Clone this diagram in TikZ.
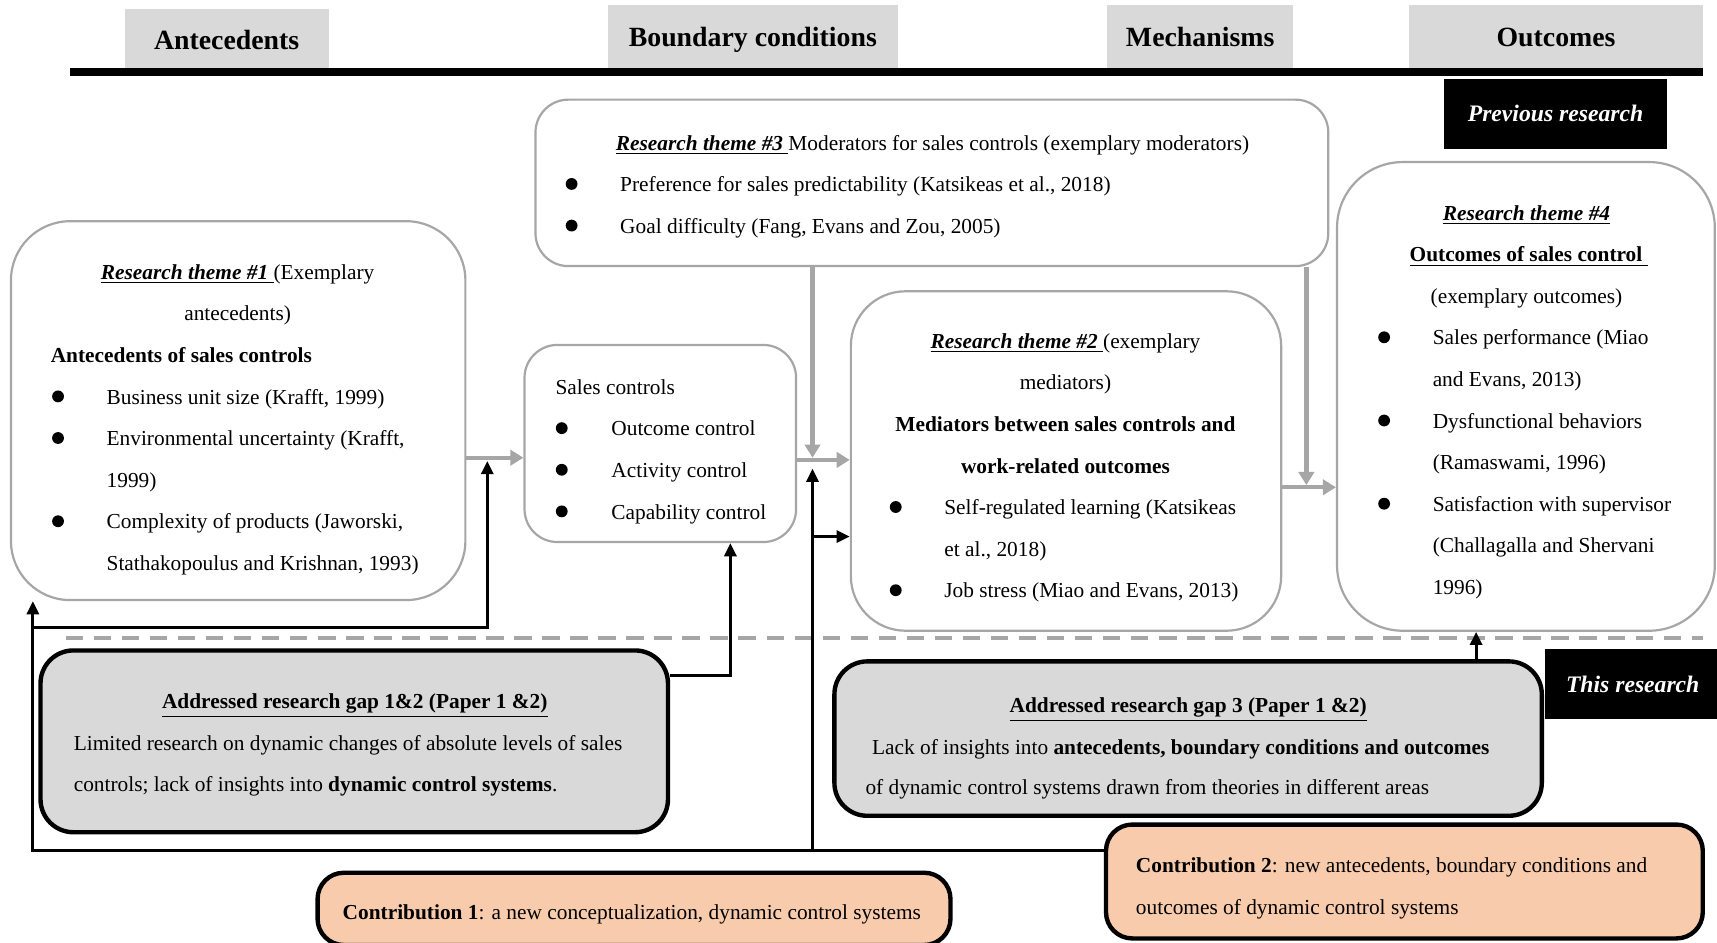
\documentclass[tikz,border=0pt]{standalone}
\usepackage{fontspec}
\setmainfont{Liberation Serif}
\usetikzlibrary{arrows.meta,calc}
\definecolor{tabgray}{HTML}{D9D9D9}
\definecolor{boxgray}{HTML}{A6A6A6}
\definecolor{peach}{HTML}{F8CBAD}
\newcommand{\rthm}[1]{\underline{\textbf{\textit{#1}}\ }}
\begin{document}
\begin{tikzpicture}[x=0.5pt,y=-0.5pt,
  tab/.style={fill=tabgray, inner sep=0pt, text height=11pt, text depth=2pt, font=\bfseries\fontsize{12.7}{15}\selectfont},
  blk/.style={fill=black, text=white, inner sep=0pt, font=\bfseries\itshape\fontsize{10.8}{13}\selectfont},
  gbox/.style={draw=boxgray, line width=1pt, fill=white, inner sep=0pt},
  gapbox/.style={draw=black, line width=2pt, fill=tabgray, inner sep=0pt, rounded corners=15pt},
  cbox/.style={draw=black, line width=2pt, fill=peach, inner sep=0pt, rounded corners=12pt},
  txt/.style={inner sep=0pt, yshift=-1pt, font=\fontsize{9.75}{12}\selectfont, text height=7pt, text depth=2pt},
  garrow/.style={draw=boxgray, line width=2pt, -{Triangle[width=7pt,length=6pt]}},
  barrow/.style={draw=black, line width=1.4pt, -{Triangle[width=5.5pt,length=6pt]}},
  bline/.style={draw=black, line width=1.4pt}]
\useasboundingbox (0,0) rectangle (1568,861);

% header tabs
\node[tab, minimum width=93pt, minimum height=28pt] (tA) at (207,36) {Antecedents};
\node[tab, minimum width=132.5pt, minimum height=28.5pt] (tB) at (687.5,33.5) {Boundary conditions};
\node[tab, minimum width=85pt, minimum height=28.5pt] (tM) at (1096,33.5) {Mechanisms};
\node[tab, minimum width=134pt, minimum height=28.5pt] (tO) at (1421,33.5) {Outcomes};
\draw[line width=3.6pt] (64,66) -- (1555,66);

\node[blk, minimum width=101.5pt, minimum height=32pt] (prev) at (1420.5,104) {Previous research};

% boxes
\node[gbox, rounded corners=15pt, minimum width=362pt, minimum height=76pt] (theme3) at (851,167) {};
\node[gbox, rounded corners=27pt, minimum width=207.5pt, minimum height=173pt] (theme1) at (217.5,375) {};
\node[gbox, rounded corners=15pt, minimum width=124pt, minimum height=90pt] (sales) at (603,405) {};
\node[gbox, rounded corners=25pt, minimum width=196.5pt, minimum height=155pt] (theme2) at (973.5,421) {};
\node[gbox, rounded corners=30pt, minimum width=172.5pt, minimum height=214pt] (theme4) at (1393.5,362) {};

% theme 3 text
\node[txt, anchor=west] (t3a) at (562,130) {\rthm{Research theme \#3}Moderators for sales controls (exemplary moderators)};
\fill (522,168) circle (2.7pt);
\node[txt, anchor=west] (t3b) at (566,168) {Preference for sales predictability (Katsikeas et al., 2018)};
\fill (522,206) circle (2.7pt);
\node[txt, anchor=west] (t3c) at (566,206) {Goal difficulty (Fang, Evans and Zou, 2005)};

% theme 1 text
\node[txt] (t1a) at (217,248) {\rthm{Research theme \#1}(Exemplary};
\node[txt] (t1b) at (217,286) {antecedents)};
\node[txt, anchor=west] (t1c) at (46,324) {\textbf{Antecedents of sales controls}};
\fill (53,362) circle (2.7pt);
\node[txt, anchor=west] (t1d) at (97,362) {Business unit size (Krafft, 1999)};
\fill (53,400) circle (2.7pt);
\node[txt, anchor=west] (t1e) at (97,400) {Environmental uncertainty (Krafft,};
\node[txt, anchor=west] (t1f) at (97,438) {1999)};
\fill (53,476) circle (2.7pt);
\node[txt, anchor=west] (t1g) at (97,476) {Complexity of products (Jaworski,};
\node[txt, anchor=west] (t1h) at (97,514) {Stathakopoulus and Krishnan, 1993)};

% sales controls text
\node[txt, anchor=west] (sa) at (507,353) {Sales controls};
\fill (513,391) circle (2.7pt);
\node[txt, anchor=west] (sb) at (558,391) {Outcome control};
\fill (513,429) circle (2.7pt);
\node[txt, anchor=west] (sc) at (558,429) {Activity control};
\fill (513,467) circle (2.7pt);
\node[txt, anchor=west] (sd) at (558,467) {Capability control};

% theme 2 text
\node[txt] (t2a) at (973,311) {\rthm{Research theme \#2}(exemplary};
\node[txt] (t2b) at (973,349) {mediators)};
\node[txt] (t2c) at (973,387) {\textbf{Mediators between sales controls and}};
\node[txt] (t2d) at (973,425) {\textbf{work-related outcomes}};
\fill (818,463) circle (2.7pt);
\node[txt, anchor=west] (t2e) at (862,463) {Self-regulated learning (Katsikeas};
\node[txt, anchor=west] (t2f) at (862,501) {et al., 2018)};
\fill (818,539) circle (2.7pt);
\node[txt, anchor=west] (t2g) at (862,539) {Job stress (Miao and Evans, 2013)};

% theme 4 text
\node[txt] (t4a) at (1394,194) {\underline{\textbf{\textit{Research theme \#4}}}};
\node[txt] (t4b) at (1396,232) {\underline{\textbf{Outcomes of sales control}\ }};
\node[txt] (t4c) at (1394,270) {(exemplary outcomes)};
\fill (1264,308) circle (2.7pt);
\node[txt, anchor=west] (t4d) at (1308,308) {Sales performance (Miao};
\node[txt, anchor=west] (t4e) at (1308,346) {and Evans, 2013)};
\fill (1264,384) circle (2.7pt);
\node[txt, anchor=west] (t4f) at (1308,384) {Dysfunctional behaviors};
\node[txt, anchor=west] (t4g) at (1308,422) {(Ramaswami, 1996)};
\fill (1264,460) circle (2.7pt);
\node[txt, anchor=west] (t4h) at (1308,460) {Satisfaction with supervisor};
\node[txt, anchor=west] (t4i) at (1308,498) {(Challagalla and Shervani};
\node[txt, anchor=west] (t4j) at (1308,536) {1996)};

% dashed separator
\draw[boxgray, line width=1.8pt, dash pattern=on 8pt off 4.8pt] (60,583) -- (1555,583);

% lower boxes
\node[gapbox, minimum width=286.5pt, minimum height=83pt] (gap12) at (323.5,677) {};
\node[txt] (g1a) at (324,640) {\underline{\textbf{Addressed research gap 1\&2 (Paper 1 \&2)}}};
\node[txt, anchor=west] (g1b) at (67,678) {Limited research on dynamic changes of absolute levels of sales};
\node[txt, anchor=west] (g1c) at (67,716) {controls; lack of insights into \textbf{dynamic control systems}.};

\node[gapbox, minimum width=323pt, minimum height=70.5pt] (gap3) at (1085,674.5) {};
\node[txt] (g3a) at (1085,644) {\underline{\textbf{Addressed research gap 3 (Paper 1 \&2)}}};
\node[txt, anchor=west] (g3b) at (796,682) {Lack of insights into \textbf{antecedents, boundary conditions and outcomes}};
\node[txt, anchor=west] (g3c) at (790,719) {of dynamic control systems drawn from theories in different areas};

\node[blk, minimum width=80pt, minimum height=32pt] (thisres) at (1491,625) {This research};

\node[cbox, minimum width=289pt, minimum height=33pt] (contrib1) at (579,830) {};
\node[txt] (c1a) at (577,833) {\textbf{Contribution 1}: a new conceptualization, dynamic control systems};

\node[cbox, minimum width=272.5pt, minimum height=52pt] (contrib2) at (1282.5,805) {};
\node[txt, anchor=west] (c2a) at (1037,790) {\textbf{Contribution 2}: new antecedents, boundary conditions and};
\node[txt, anchor=west] (c2b) at (1037,828) {outcomes of dynamic control systems};

% helper coordinates
\coordinate (yA) at (0,418);
\coordinate (yB) at (0,420);
\coordinate (yD) at (0,445);
\coordinate (c3a) at (742,418);
\coordinate (c3b) at (1193,443);
\coordinate (jl) at (30,777);
\coordinate (jb) at (30,573);
\coordinate (ja) at (445,421);
\coordinate (kv) at (742,777);
\coordinate (kt) at (742,428);
\coordinate (kr) at (742,490);
\coordinate (g1) at (667,617);
\coordinate (m1) at (1348,0);

% gray connectors
\draw[garrow] (theme1.east |- yA) -- (sales.west |- yA);
\draw[garrow] (sales.east |- yB) -- (theme2.west |- yB);
\draw[garrow] (theme3.south -| c3a) -- (c3a);
\draw[garrow] (theme2.east |- yD) -- (theme4.west |- yD);
\draw[garrow] (theme3.south -| c3b) -- (c3b);

% black connectors
\draw[barrow] (contrib2.west |- jl) -- (jl) -- (theme1.south -| jl);
\draw[barrow] (jb) -| (ja);
\draw[barrow] (kv) -- (kt);
\draw[barrow] (kr) -- (theme2.west |- kr);
\draw[barrow] (gap12.east |- g1) -| (sales.south -| g1);
\draw[barrow] (gap3.north -| m1) -- (theme4.south -| m1);
\end{tikzpicture}
\end{document}
